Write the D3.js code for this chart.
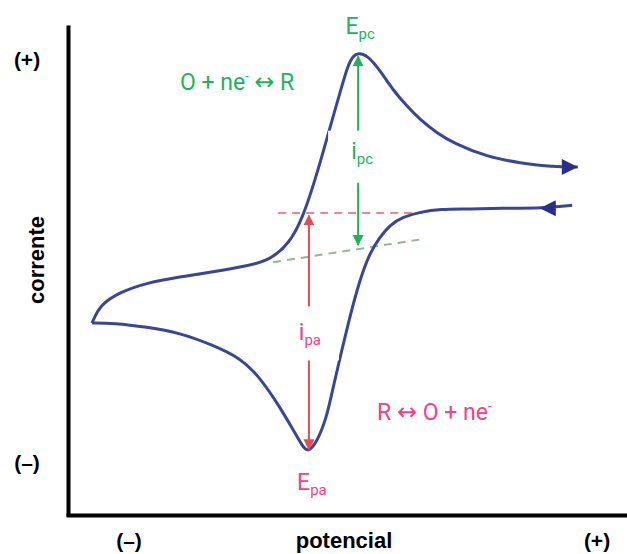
<!DOCTYPE html>
<html>
<head>
<meta charset="utf-8">
<script src="https://cdn.jsdelivr.net/npm/d3@7"></script>
<style>
  body { margin: 0; background: #fff; }
  svg { display: block; }
</style>
</head>
<body>
<div id="chart"></div>
<script>
// potential / current (arbitrary units, 0..10)
const forwardE = [0.43, 0.57, 0.93, 1.41, 2.00, 2.59, 3.20, 3.61, 3.97, 4.20, 4.38, 4.56, 4.72, 4.87, 5.01, 5.10, 5.19, 5.35, 5.58, 5.81, 6.06, 6.30, 6.60, 6.89, 7.50, 8.09, 8.68, 9.12];
const forwardI = [3.93, 4.30, 4.56, 4.75, 4.87, 4.97, 5.09, 5.21, 5.56, 6.09, 6.70, 7.39, 8.05, 8.64, 9.19, 9.37, 9.43, 9.39, 9.08, 8.68, 8.35, 8.07, 7.80, 7.60, 7.31, 7.19, 7.11, 7.11];
const reverseE = [9.02, 8.50, 7.73, 7.19, 6.65, 6.30, 5.99, 5.76, 5.58, 5.40, 5.22, 5.04, 4.87, 4.72, 4.63, 4.45, 4.29, 4.20, 4.03, 3.79, 3.43, 3.08, 2.59, 2.00, 1.41, 0.81, 0.43];
const reverseI = [6.33, 6.27, 6.27, 6.25, 6.25, 6.19, 6.09, 5.93, 5.68, 5.36, 4.81, 4.05, 3.24, 2.51, 2.02, 1.49, 1.30, 1.41, 1.75, 2.22, 2.83, 3.22, 3.48, 3.73, 3.85, 3.93, 3.93];

// baselines used to measure the peak currents
const redBaseE = [3.76, 6.35];
const redBaseI = [6.17, 6.17];
const greenBaseE = [3.67, 6.35];
const greenBaseI = [5.17, 5.64];

// peaks: potential, top and bottom of the current arrow
const peakC = { E: 5.19, top: 9.36, bottom: 5.52 };
const peakA = { E: 4.31, top: 6.12, bottom: 1.36 };

// scan-direction arrow positions
const arrowFwd = { E: 9.12, I: 7.11 };
const arrowRev = { E: 8.44, I: 6.27 };

const W = 627, H = 554;

const svg = d3.select("#chart").append("svg")
              .attr("width", W)
              .attr("height", H);

const x = d3.scaleLinear().domain([0, 10]).range([68, 627]);
const y = d3.scaleLinear().domain([0, 10]).range([516, 25]);

const blue = "#3a4596";
const navy = "#2b2d8c";
const green = "#22b35a";
const pink = "#f5408a";
const red = "#e84a55";

// markers
const defs = svg.append("defs");
function addMarker(id, color, size) {
  defs.append("marker")
      .attr("id", id)
      .attr("viewBox", "0 0 10 10")
      .attr("refX", 9)
      .attr("refY", 5)
      .attr("markerUnits", "userSpaceOnUse")
      .attr("markerWidth", size)
      .attr("markerHeight", size)
      .attr("orient", "auto-start-reverse")
      .append("path")
      .attr("d", "M0,0 L10,5 L0,10 Z")
      .attr("fill", color);
}
addMarker("arrG", green, 11);
addMarker("arrR", red, 11);

// axes, no ticks
svg.append("g")
   .attr("transform", "translate(68,0)")
   .call(d3.axisLeft(y).ticks(0).tickSizeOuter(0))
   .call(g => g.select(".domain").attr("stroke", "#000").attr("stroke-width", 4));

svg.append("g")
   .attr("transform", "translate(0,515)")
   .call(d3.axisBottom(d3.scaleLinear().domain([0, 10]).range([66, 627])).ticks(0).tickSizeOuter(0))
   .call(g => g.select(".domain").attr("stroke", "#000").attr("stroke-width", 4));

// dashed baselines
const base = d3.line().x(d => x(d[0])).y(d => y(d[1]));
svg.append("path")
   .attr("d", base(d3.zip(redBaseE, redBaseI)))
   .attr("fill", "none")
   .attr("stroke", "#e58a92")
   .attr("stroke-width", 2)
   .attr("stroke-dasharray", "8,6");
svg.append("path")
   .attr("d", base(d3.zip(greenBaseE, greenBaseI)))
   .attr("fill", "none")
   .attr("stroke", "#8fb59a")
   .attr("stroke-width", 2)
   .attr("stroke-dasharray", "8,6");

// the voltammogram
const curve = d3.line()
                .x(d => x(d[0]))
                .y(d => y(d[1]))
                .curve(d3.curveBasis);

svg.append("path")
   .attr("d", curve(d3.zip(forwardE, forwardI)))
   .attr("fill", "none")
   .attr("stroke", blue)
   .attr("stroke-width", 3);

svg.append("path")
   .attr("d", curve(d3.zip(reverseE, reverseI)))
   .attr("fill", "none")
   .attr("stroke", blue)
   .attr("stroke-width", 3);

// scan direction arrowheads
function tri(cx, cy, dir) {
  const l = 16, h = 8;
  return `M${cx},${cy} L${cx - dir * l},${cy - h} L${cx - dir * l},${cy + h} Z`;
}
svg.append("path").attr("d", tri(x(arrowFwd.E), y(arrowFwd.I), 1)).attr("fill", navy);
svg.append("path").attr("d", tri(x(arrowRev.E), y(arrowRev.I), -1)).attr("fill", navy);

// peak current arrows
svg.append("line")
   .attr("x1", x(peakC.E)).attr("x2", x(peakC.E))
   .attr("y1", y(peakC.top)).attr("y2", y(peakC.bottom))
   .attr("stroke", green).attr("stroke-width", 2)
   .attr("marker-start", "url(#arrG)")
   .attr("marker-end", "url(#arrG)");

svg.append("line")
   .attr("x1", x(peakA.E)).attr("x2", x(peakA.E))
   .attr("y1", y(peakA.top)).attr("y2", y(peakA.bottom))
   .attr("stroke", red).attr("stroke-width", 2)
   .attr("marker-start", "url(#arrR)")
   .attr("marker-end", "url(#arrR)");

// white boxes behind the current labels
const midC = (y(peakC.top) + y(peakC.bottom)) / 2;
const midA = (y(peakA.top) + y(peakA.bottom)) / 2;
svg.append("rect").attr("x", x(peakC.E) - 30).attr("y", midC - 20).attr("width", 70).attr("height", 52).attr("fill", "#fff");
svg.append("rect").attr("x", x(peakA.E) - 30).attr("y", midA - 26).attr("width", 60).attr("height", 54).attr("fill", "#fff");

// text helpers
const sans = "Roboto, 'Liberation Sans', sans-serif";
function subLabel(px, py, main, sub, color, anchor) {
  const t = svg.append("text")
               .attr("x", px).attr("y", py)
               .attr("fill", color)
               .attr("font-family", sans)
               .attr("font-size", 23)
               .attr("text-anchor", anchor || "middle");
  t.append("tspan").text(main);
  t.append("tspan").attr("font-size", 15).attr("dy", 5).text(sub);
  return t;
}

subLabel(x(peakC.E) + 2, 34, "E", "pc", green);
subLabel(x(peakA.E) + 3, 490, "E", "pa", pink);
subLabel(x(peakC.E) + 4, midC + 8, "i", "pc", green);
subLabel(x(peakA.E) + 1, midA + 8, "i", "pa", pink);

// reaction equations; parts = [text, kind]
function reaction(px, py, parts, color) {
  const t = svg.append("text")
               .attr("x", px).attr("y", py)
               .attr("fill", color)
               .attr("font-family", sans)
               .attr("font-size", 23);
  let shift = 0;
  parts.forEach(([s, kind]) => {
    const ts = t.append("tspan").text(s);
    if (kind === "sup") {
      ts.attr("font-size", 12).attr("dy", -10);
      shift = 10;
    } else {
      if (shift) { ts.attr("dy", shift); shift = 0; }
      if (kind === "arrow") ts.attr("font-family", "'DejaVu Sans'").attr("font-size", 24);
    }
  });
}
reaction(180, 90, [["O + ne", ""], ["-", "sup"], [" ", ""], ["\u2194", "arrow"], [" R", ""]], green);
reaction(377, 420, [["R ", ""], ["\u2194", "arrow"], [" O + ne", ""], ["-", "sup"]], pink);

// axis annotations
const bold = svg.append("g")
                .attr("font-family", "'Liberation Sans', Arial, sans-serif")
                .attr("font-weight", "bold")
                .attr("font-size", 21)
                .attr("fill", "#000")
                .attr("text-anchor", "middle");
bold.append("text").attr("x", 27).attr("y", 67).text("(+)");
bold.append("text").attr("x", 27).attr("y", 470).text("(\u2013)");
bold.append("text").attr("x", 129).attr("y", 548).text("(\u2013)");
bold.append("text").attr("x", 344).attr("y", 548).attr("font-size", 22).text("potencial");
bold.append("text").attr("x", 597).attr("y", 548).text("(+)");
bold.append("text")
    .attr("transform", "translate(44,260) rotate(-90)")
    .attr("font-size", 22)
    .text("corrente");
</script>
</body>
</html>
